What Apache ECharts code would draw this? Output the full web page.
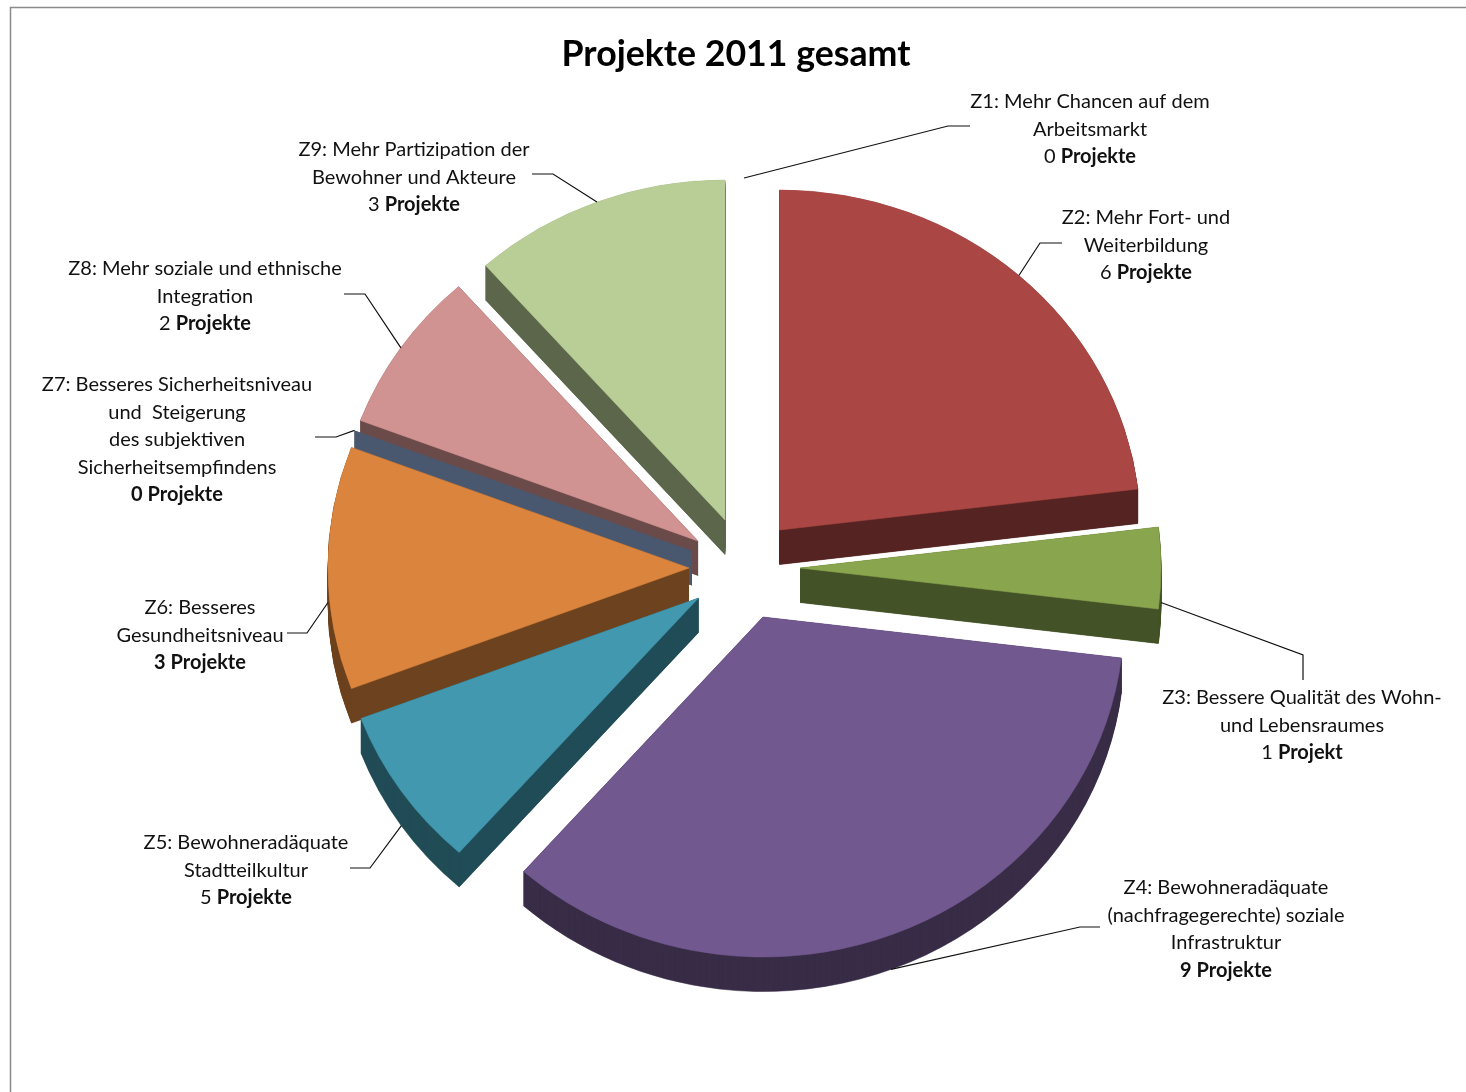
<!DOCTYPE html>
<html>
<head>
<meta charset="utf-8">
<title>Projekte 2011 gesamt</title>
<style>html,body{margin:0;padding:0;background:#fff}#c{width:1466px;height:1092px}</style>
<script src="https://cdn.jsdelivr.net/npm/echarts@6/dist/echarts.min.js"></script>
</head>
<body>
<div id="c"></div>
<script>
// ---- data ----
const chartTitle = 'Projekte 2011 gesamt';
const categories = ['Z1','Z2','Z3','Z4','Z5','Z6','Z7','Z8','Z9'];
// size of each drawn slice
const sliceValues = [0, 6, 1, 9, 2, 3, 0, 2, 3];
// number printed in each label
const labelCounts = [0, 6, 1, 9, 5, 3, 0, 2, 3];
const labelUnits = ['Projekte','Projekte','Projekt','Projekte','Projekte','Projekte','Projekte','Projekte','Projekte'];
const labelTexts = [
  'Z1: Mehr Chancen auf dem\nArbeitsmarkt',
  'Z2: Mehr Fort- und\nWeiterbildung',
  'Z3: Bessere Qualität des Wohn-\nund Lebensraumes',
  'Z4: Bewohneradäquate\n(nachfragegerechte) soziale\nInfrastruktur',
  'Z5: Bewohneradäquate\nStadtteilkultur',
  'Z6: Besseres\nGesundheitsniveau',
  'Z7: Besseres Sicherheitsniveau\nund  Steigerung\ndes subjektiven\nSicherheitsempfindens',
  'Z8: Mehr soziale und ethnische\nIntegration',
  'Z9: Mehr Partizipation der\nBewohner und Akteure'
];
const boldCounts = [false,false,false,true,false,true,true,false,false];

// ---- styling and layout ----
const topColors  = ['#4572A7','#AA4643','#89A54E','#71588F','#4198AF','#DB843D','#93A9CF','#D19392','#B9CD96'];
const wallColors = ['#22395A','#552321','#445227','#382C47','#204C57','#6D421E','#4A586F','#6B4B4A','#5C664B'];
const explodedCenters = [[744,518],[779.5,530],[800,568],[763,617],[698.5,598],[689,568],[692,551],[698,541],[725,520]];
const labelAnchors = [[1090,88],[1146,204],[1302,684],[1226,874],[246,829],[200,594],[177,371],[205,255],[414,136]];
const leaderElbows = [
  [[948,126],[970,126]], [[1040,243],[1062,243]], [[1303,655],[1303,680]],
  [[1080,927],[1100,927]], [[370,868],[350,868]], [[307,633],[287,633]],
  [[336,437],[315,437]], [[365,294],[344,294]], [[553,174],[532,174]]
];
const paintOrder = [0,8,7,6,5,1,2,4,3];
const RX = 361, RY = 340, DEPTH = 34.5;
const TEXT_FONT = 'Lato, "Open Sans", sans-serif';

const total = sliceValues.reduce((a,b)=>a+b,0);
const startAngles = [];
sliceValues.reduce((acc,v,i)=>{ startAngles[i]=acc; return acc+v; },0);
const toDeg = v => v/total*360;

function edge(deg){
  const r = deg*Math.PI/180;
  return [RX*Math.sin(r), -RY*Math.cos(r)];
}

function renderSlice(params, api){
  const i = api.value(0);
  const v = api.value(1);
  const a0 = toDeg(startAngles[i]);
  const a1 = a0 + toDeg(v);
  const [cx,cy] = explodedCenters[i];
  const children = [];
  const sector = (dy, color) => ({
    type:'sector', x:cx, y:cy+dy, scaleY:RY/RX,
    shape:{cx:0,cy:0,r:RX,r0:0,
      startAngle:(a0-90)*Math.PI/180, endAngle:(a1-90)*Math.PI/180, clockwise:true},
    style:{fill:color, stroke:color, lineWidth:0.6}
  });
  // side wall
  if (v>0) for (let d=DEPTH; d>0; d-=1) children.push(sector(d, wallColors[i]));
  [a0,a1].forEach(a=>{
    const e = edge(a);
    children.push({type:'polygon',
      shape:{points:[[cx,cy],[cx+e[0],cy+e[1]],[cx+e[0],cy+e[1]+DEPTH],[cx,cy+DEPTH]]},
      style:{fill:wallColors[i]}});
  });
  // top face
  if (v>0) children.push(sector(0, topColors[i]));
  // leader line, starts at the middle of the slice's outer edge
  const mid = (a0+a1)/2;
  const m = edge(mid);
  const onWall = mid>85 && mid<280;
  const start = [cx+m[0], cy+m[1]+(onWall?DEPTH:0)];
  children.push({type:'polyline',
    shape:{points:[start].concat(leaderElbows[i])},
    style:{fill:null,stroke:'#111',lineWidth:1.2}});
  // label
  const count = boldCounts[i]
    ? '{b|'+labelCounts[i]+' '+labelUnits[i]+'}'
    : '{n|'+labelCounts[i]+' }{b|'+labelUnits[i]+'}';
  const lines = labelTexts[i].split('\n').map(s=>'{n|'+s+'}').join('\n');
  children.push({type:'text', x:labelAnchors[i][0], y:labelAnchors[i][1],
    style:{text:lines+'\n'+count, align:'center', verticalAlign:'top',
      rich:{
        n:{font:'20px '+TEXT_FONT, fill:'#111', lineHeight:27.5},
        b:{font:'bold 20px '+TEXT_FONT, fill:'#111', lineHeight:27.5}
      }}});
  return {type:'group', children};
}

const chart = echarts.init(document.getElementById('c'), null, {renderer:'canvas'});
chart.setOption({
  animation:false,
  backgroundColor:'#fff',
  title:{text:chartTitle, left:731, top:31, textAlign:'center',
    textStyle:{fontFamily:TEXT_FONT, fontWeight:'bold', fontSize:35.7, color:'#000'}},
  graphic:[{type:'polyline', silent:true,
    shape:{points:[[10.5,1092],[10.5,7.5],[1466,7.5]]},
    style:{fill:null, stroke:'#8a8a8a', lineWidth:1.5}}],
  series:[{
    type:'custom', coordinateSystem:'none', silent:true,
    renderItem:renderSlice,
    data:paintOrder.map(i=>({name:categories[i], value:[i, sliceValues[i]]}))
  }]
});
</script>
</body>
</html>
